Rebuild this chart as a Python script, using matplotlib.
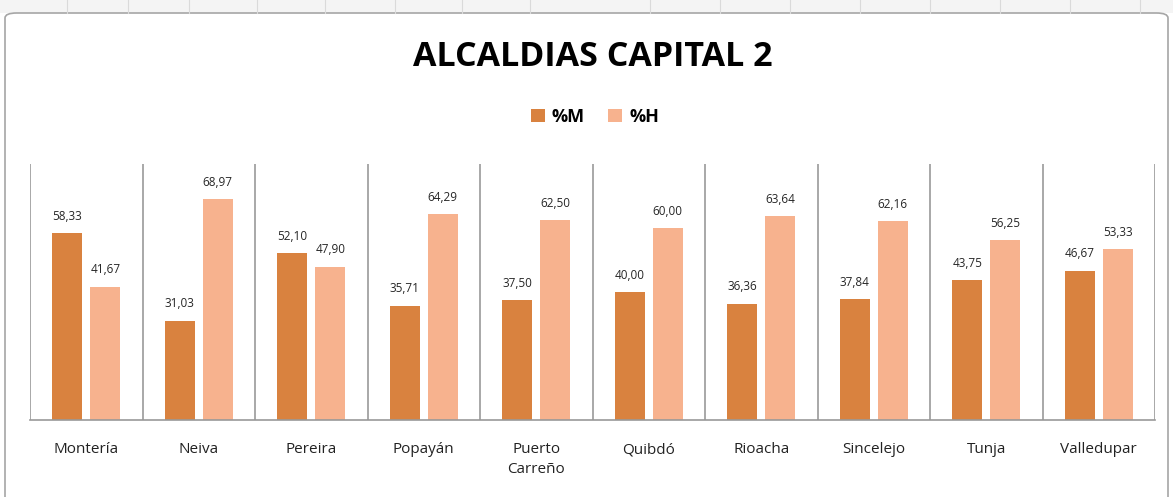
import matplotlib.pyplot as plt
from matplotlib.patches import FancyBboxPatch, Rectangle
from matplotlib.lines import Line2D
import numpy as np

# data
cities = ['Montería', 'Neiva', 'Pereira', 'Popayán', 'Puerto\nCarreño',
          'Quibdó', 'Rioacha', 'Sincelejo', 'Tunja', 'Valledupar']
pct_m = [58.33, 31.03, 52.10, 35.71, 37.50, 40.00, 36.36, 37.84, 43.75, 46.67]
pct_h = [41.67, 68.97, 47.90, 64.29, 62.50, 60.00, 63.64, 62.16, 56.25, 53.33]

col_m = '#D9823F'
col_h = '#F7B28E'

plt.rcParams['font.family'] = ['Open Sans', 'DejaVu Sans']

fig = plt.figure(figsize=(11.73, 4.97), dpi=100)
fig.patch.set_facecolor('white')

# spreadsheet header strip + chart frame
fig.add_artist(Rectangle((0, 1 - 13 / 497), 1, 13 / 497, transform=fig.transFigure,
                         facecolor='#F4F4F4', edgecolor='none'))
for xp in [67, 128, 189, 257, 325, 395, 462, 530, 650, 720, 790, 860, 930, 1000, 1070, 1140]:
    fig.add_artist(Line2D([xp / 1173, xp / 1173], [1 - 13 / 497, 1], transform=fig.transFigure,
                          color='#DADADA', lw=0.8))
fig.add_artist(FancyBboxPatch((5 / 1173, -0.02), 1163 / 1173, 1 - 13 / 497 + 0.02,
                              boxstyle='round,pad=0,rounding_size=0.01',
                              transform=fig.transFigure, facecolor='none',
                              edgecolor='#A6A6A6', lw=1.2))

ax = fig.add_axes([30 / 1173, 77 / 497, 1125 / 1173, 256 / 497])
x = np.arange(len(cities))
w = 0.267
off = 0.169
b1 = ax.bar(x - off, pct_m, w, color=col_m, label='%M')
b2 = ax.bar(x + off, pct_h, w, color=col_h, label='%H')

for bars, vals in [(b1, pct_m), (b2, pct_h)]:
    for b, v in zip(bars, vals):
        ax.text(b.get_x() + b.get_width() / 2, v + 3.2, f'{v:.2f}'.replace('.', ','),
                ha='center', va='bottom', fontsize=8.5, color='#262626')

ax.set_xlim(-0.5, len(cities) - 0.5)
ax.set_ylim(0, 80)
for b in np.arange(-0.5, len(cities), 1):
    ax.axvline(b, color='#999999', lw=1.2, zorder=0)
for s in ['top', 'right', 'left']:
    ax.spines[s].set_visible(False)
ax.spines['bottom'].set_color('#999999')
ax.spines['bottom'].set_linewidth(1.2)
ax.set_yticks([])
ax.set_xticks(x)
ax.set_xticklabels(cities, fontsize=11, color='#222222', linespacing=1.4)
ax.tick_params(axis='x', length=0, pad=16)
for lbl in ax.get_xticklabels():
    lbl.set_verticalalignment('top')

fig.text(593 / 1173, 1 - 57 / 497, 'ALCALDIAS CAPITAL 2', ha='center', va='center',
         fontsize=24.5, fontweight='bold', color='black')
fig.legend(handles=[b1, b2], labels=['%M', '%H'], loc='center',
           bbox_to_anchor=(595 / 1173, 1 - 117 / 497), ncol=2, frameon=False,
           prop={'weight': 'bold', 'size': 13}, handlelength=0.75, handleheight=0.75,
           columnspacing=1.3, handletextpad=0.4)

fig.savefig('out.png', dpi=100, facecolor='white')
